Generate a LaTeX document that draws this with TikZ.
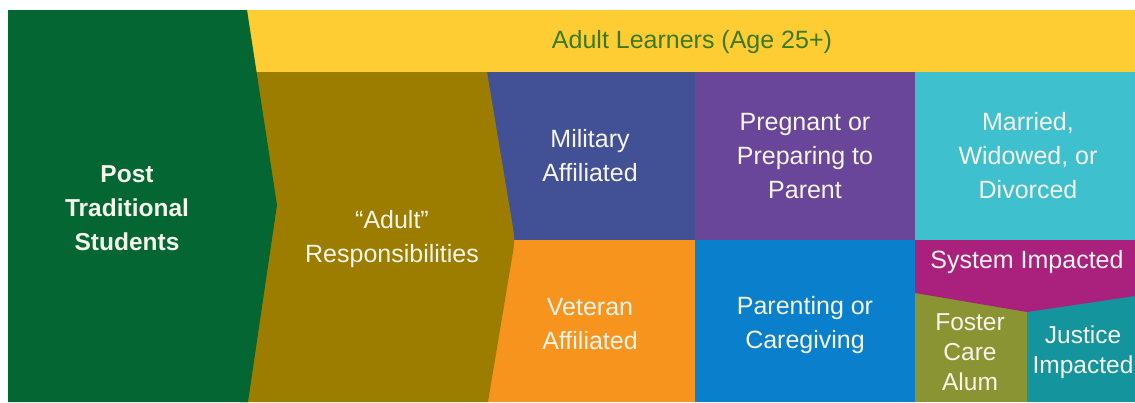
\documentclass[tikz,border=0pt]{standalone}
\usepackage{fontspec}
\setmainfont{Liberation Sans}
\definecolor{cgreen}{RGB}{3,102,51}
\definecolor{cyellow}{RGB}{254,204,51}
\definecolor{colive}{RGB}{156,125,0}
\definecolor{cmil}{RGB}{66,80,150}
\definecolor{cpurple}{RGB}{106,70,155}
\definecolor{ccyan}{RGB}{62,192,207}
\definecolor{corange}{RGB}{247,148,30}
\definecolor{cblue}{RGB}{10,127,203}
\definecolor{cmagenta}{RGB}{170,32,125}
\definecolor{cfoster}{RGB}{138,148,50}
\definecolor{cteal}{RGB}{20,148,157}
\definecolor{ctextgreen}{RGB}{60,122,32}
\definecolor{ctext}{RGB}{245,245,235}
\tikzset{
  lbl/.style={text=ctext, align=center, font=\fontsize{25}{34}\selectfont, inner sep=0pt},
  lblb/.style={lbl, font=\fontsize{24.5}{34}\selectfont\bfseries},
  lbls/.style={lbl, font=\fontsize{24.5}{30}\selectfont},
}
\begin{document}
\begin{tikzpicture}[x=1pt,y=-1pt]
\useasboundingbox (0,0) rectangle (1135,402);
\fill[white] (0,0) rectangle (1135,402);
% top band
\fill[cyellow] (240,10) rectangle (1135,72);
% grid cells
\fill[cmil] (480,72) rectangle (695,240);
\fill[cpurple] (695,72) rectangle (915,240);
\fill[ccyan] (915,72) rectangle (1135,240);
\fill[corange] (480,240) rectangle (695,402);
\fill[cblue] (695,240) rectangle (915,402);
\fill[cfoster] (915,240) rectangle (1027,402);
\fill[cteal] (1027,240) rectangle (1135,402);
\fill[cmagenta] (915,240) -- (1135,240) -- (1135,296) -- (1027,312) -- (915,293) -- cycle;
% olive chevron
\fill[colive] (240,72) -- (487,72) [rounded corners=8pt] -- (515,240) [sharp corners] -- (488,402) -- (240,402) -- cycle;
% green chevron
\fill[cgreen] (8,10) -- (247,10) -- (277,205) -- (248,402) -- (8,402) -- cycle;
% texts
\node[lbl, text=ctextgreen] (adultlearners) at (692,42) {Adult Learners (Age 25+)};
\node[lblb] (post) at (127,208) {Post\\Traditional\\Students};
\node[lbl] (resp) at (392,239) {“Adult”\\Responsibilities};
\node[lbl] (mil) at (590,156) {Military\\Affiliated};
\node[lbl] (preg) at (805,156) {Pregnant or\\Preparing to\\Parent};
\node[lbl] (married) at (1028,156) {Married,\\Widowed, or\\Divorced};
\node[lbl] (vet) at (590,324) {Veteran\\Affiliated};
\node[lbl] (parenting) at (805,325) {Parenting or\\Caregiving};
\node[lbl] (system) at (1027,262) {System Impacted};
\node[lbls] (foster) at (970,352) {Foster\\Care\\Alum};
\node[lbls] (justice) at (1083,352) {Justice\\Impacted};
\end{tikzpicture}
\end{document}
